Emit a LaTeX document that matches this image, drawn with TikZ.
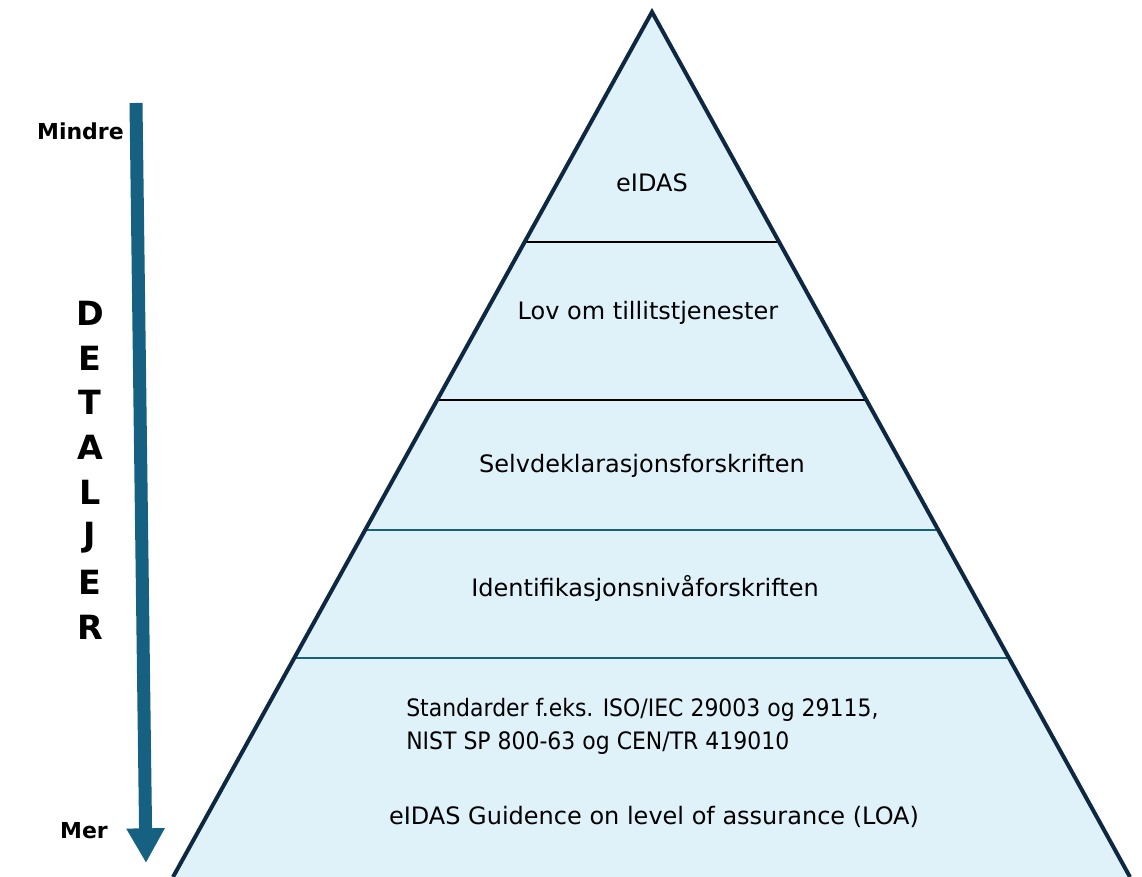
\documentclass[tikz,border=0pt]{standalone}
\usepackage{fontspec}
\usepackage{graphicx}
\setmainfont{DejaVu Sans}
\usetikzlibrary{arrows.meta}
\definecolor{pyrfill}{RGB}{223,241,249}
\definecolor{pyredge}{RGB}{14,40,65}
\definecolor{arrowblue}{RGB}{22,96,130}
\begin{document}
\begin{tikzpicture}[x=0.75pt,y=-0.75pt]

  \tikzset{lvl/.style={inner sep=0pt,font=\fontsize{18}{22}\selectfont},
           side/.style={inner sep=0pt,font=\bfseries\fontsize{16.5}{20}\selectfont},
           big/.style={inner sep=0pt,font=\bfseries\fontsize{25}{30}\selectfont}}
  \useasboundingbox (0,0) rectangle (1142,877);
  \coordinate (apex) at (652,12);
  \coordinate (bl) at (173,877);
  \coordinate (br) at (1130,877);
  \fill[pyrfill] (apex) -- (br) -- (bl) -- cycle;
  \foreach \y/\c/\w in {242/black/1.5pt,400/black/1.5pt,530/arrowblue/2pt,658/arrowblue/2pt} {
    \draw[\c,line width=\w] ({652-(\y-12)*0.5538},\y) -- ({652+(\y-12)*0.5526},\y);
  }
  \draw[pyredge,line width=3pt] (bl) -- (apex) -- (br);
  \node[lvl] (eidas) at (652,183) {eIDAS};
  \node[lvl] (lov) at (648,313) {Lov om tillitstjenester};
  \node[lvl] (selv) at (642,466) {Selvdeklarasjonsforskriften};
  \node[lvl] (ident) at (645,588) {Identifikasjonsnivåforskriften};
  \node[lvl,anchor=west] (std1) at (406,710) {\scalebox{0.915}[1]{Standarder f.eks. ISO/IEC 29003 og 29115,}};
  \node[lvl,anchor=west] (std2) at (406,743) {\scalebox{0.915}[1]{NIST SP 800-63 og CEN/TR 419010}};
  \node[lvl] (loa) at (654,817) {eIDAS Guidence on level of assurance (LOA)};
  % arrow on the left
  \coordinate (atop) at (136,103);
  \coordinate (atip) at (146,863);
  \draw[arrowblue,line width=9.75pt,-{Triangle[length=26pt,width=27pt]}] (atop) -- (atip);
  \node[side,anchor=east] (less) at (124,131) {Mindre};
  \node[side] (more) at (84,831) {Mer};
  \foreach \l [count=\i] in {D,E,T,A,L,J,E,R}
    \node[big] (det\i) at (90,{313+44.9*(\i-1)}) {\l};
\end{tikzpicture}
\end{document}
